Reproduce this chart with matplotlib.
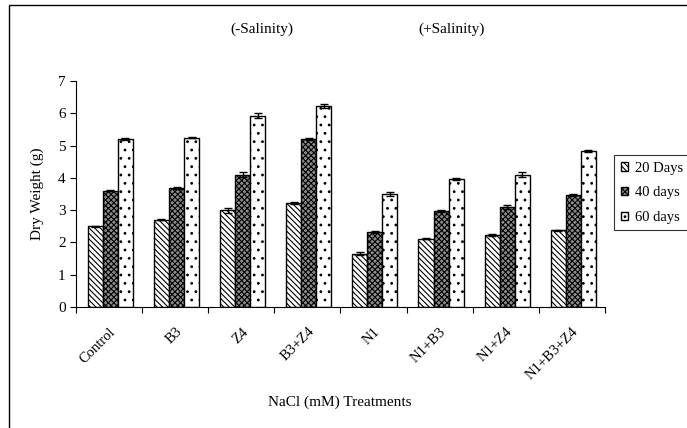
import matplotlib
matplotlib.use("Agg")
import matplotlib.pyplot as plt
import numpy as np
from matplotlib.patches import Rectangle

plt.rcParams['font.family'] = ['Liberation Serif', 'DejaVu Serif']
plt.rcParams['hatch.linewidth'] = 0.8

treatments = ["Control", "B3", "Z4", "B3+Z4", "N1", "N1+B3", "N1+Z4", "N1+B3+Z4"]
series_labels = ["20 Days", "40 days", "60 days"]
days20 = [2.50, 2.70, 3.00, 3.22, 1.65, 2.12, 2.23, 2.38]
days40 = [3.60, 3.68, 4.10, 5.20, 2.32, 2.98, 3.10, 3.47]
days60 = [5.20, 5.25, 5.92, 6.22, 3.50, 3.96, 4.10, 4.83]
err20 = [0.02, 0.02, 0.08, 0.02, 0.04, 0.02, 0.02, 0.02]
err40 = [0.02, 0.04, 0.07, 0.03, 0.04, 0.03, 0.05, 0.03]
err60 = [0.04, 0.03, 0.08, 0.07, 0.05, 0.04, 0.08, 0.03]

fig = plt.figure(figsize=(6.87, 4.28), dpi=100)
# page frame (clipped on right/bottom like the original)
fig.patches.append(Rectangle((9/687, -0.1), 1.2, 1 - 5/428 + 0.1, transform=fig.transFigure,
                             fill=False, edgecolor='black', linewidth=1.0))
ax = fig.add_axes([76/687, 1 - 307/428, (605 - 76)/687, (307 - 81)/428])

x = np.arange(len(treatments))
w = 0.227
styles = [dict(facecolor='white', hatch='\\\\\\\\\\\\'),
          dict(facecolor='#8c8c8c', hatch='xxxxxx'),
          dict(facecolor='white', hatch='..')]
data = [(days20, err20), (days40, err40), (days60, err60)]
handles = []
for i, ((vals, errs), st, lab) in enumerate(zip(data, styles, series_labels)):
    b = ax.bar(x + (i - 1) * w + 0.02, vals, w, edgecolor='black', linewidth=1.0,
               label=lab, **st)
    ax.errorbar(x + (i - 1) * w + 0.02, vals, yerr=errs, fmt='none', ecolor='black',
                elinewidth=1.0, capsize=3, capthick=1.0)
    handles.append(b)

ax.set_xlim(-0.5, len(treatments) - 0.5)
ax.set_ylim(0, 7)
ax.set_yticks(range(0, 8))
ax.set_xticks(np.arange(-0.5, len(treatments)), minor=False)
ax.set_xticklabels([])
ax.set_xticks(x, minor=True)
ax.set_xticklabels(treatments, minor=True, rotation=45, ha='right', rotation_mode='anchor',
                   fontsize=10.5)
ax.tick_params(axis='x', which='minor', length=0, pad=13)
ax.tick_params(axis='x', which='major', direction='out', length=4)
ax.tick_params(axis='y', direction='out', length=4, labelsize=11)
ax.spines['top'].set_visible(False)
ax.spines['right'].set_visible(False)

ax.set_ylabel("Dry Weight (g)", fontsize=11, labelpad=10)
fig.text(340/687, 1 - 402/428, "NaCl (mM) Treatments", ha='center', va='center', fontsize=11)
fig.text(262/687, 1 - 29/428, "(-Salinity)", ha='center', va='center', fontsize=11)
fig.text(452/687, 1 - 29/428, "(+Salinity)", ha='center', va='center', fontsize=11)

leg = fig.legend(handles=handles, loc='upper left', bbox_to_anchor=(614/687, 1 - 155/428),
                 fontsize=10.5, frameon=True, fancybox=False, edgecolor='black',
                 handlelength=0.5, handleheight=0.5, handletextpad=0.5,
                 borderpad=0.45, labelspacing=0.8, borderaxespad=0)
leg.get_frame().set_linewidth(0.8)

fig.savefig("out.png", dpi=100)
